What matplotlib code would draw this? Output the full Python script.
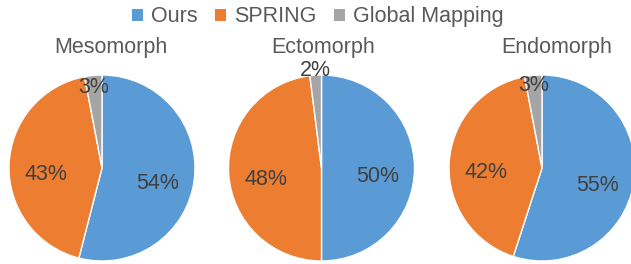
import numpy as np
import matplotlib
matplotlib.use('Agg')
import matplotlib.pyplot as plt
from matplotlib.patches import Patch

plt.rcParams['font.family'] = ['Liberation Sans', 'DejaVu Sans']

methods = ['Ours', 'SPRING', 'Global Mapping']
body_types = ['Mesomorph', 'Ectomorph', 'Endomorph']
mesomorph = [54, 43, 3]
ectomorph = [50, 48, 2]
endomorph = [55, 42, 3]
colors = ['#5B9BD5', '#ED7D31', '#A5A5A5']

W, H = 631, 264
fig = plt.figure(figsize=(W / 100, H / 100), dpi=100)

r = 93                              # pie radius in pixels
centers = [(102, 168), (321.5, 168), (542, 168)]
title_x = [111, 323, 557]
small_dist = [0.9, 1.08, 0.92]      # where the tiny slice label sits

for k, vals in enumerate([mesomorph, ectomorph, endomorph]):
    cx, cy = centers[k]
    ax = fig.add_axes([(cx - r) / W, (H - cy - r) / H, 2 * r / W, 2 * r / H])
    wedges, texts, autotexts = ax.pie(vals, colors=colors, startangle=90, counterclock=False,
                                      radius=1, autopct='%d%%', pctdistance=0.6,
                                      wedgeprops=dict(edgecolor='white', linewidth=1),
                                      textprops=dict(color='#404040', fontsize=15.5))
    ax.set_xlim(-1, 1)
    ax.set_ylim(-1, 1)
    ax.set_aspect('auto')
    ax.axis('off')
    for i, t in enumerate(autotexts):
        w = wedges[i]
        ang = np.deg2rad((w.theta1 + w.theta2) / 2)
        if i == 2:
            # the small slice gets pushed out toward the rim
            d, dy = small_dist[k], -0.03
        else:
            d, dy = 0.6, -0.09
        t.set_position((d * np.cos(ang), d * np.sin(ang) + dy))
        t.set_clip_on(False)
    fig.text(title_x[k] / W, 1 - 47 / H, body_types[k], ha='center', va='center',
             fontsize=15.5, color='#595959')

handles = [Patch(facecolor=c, edgecolor='none') for c in colors]
fig.legend(handles, methods, loc='center', bbox_to_anchor=(318 / W, 1 - 17 / H), ncol=3,
           frameon=False, fontsize=15.5, handlelength=0.5, handleheight=0.5,
           handletextpad=0.4, columnspacing=0.8, labelcolor='#595959')

fig.savefig('out.png', dpi=100)
